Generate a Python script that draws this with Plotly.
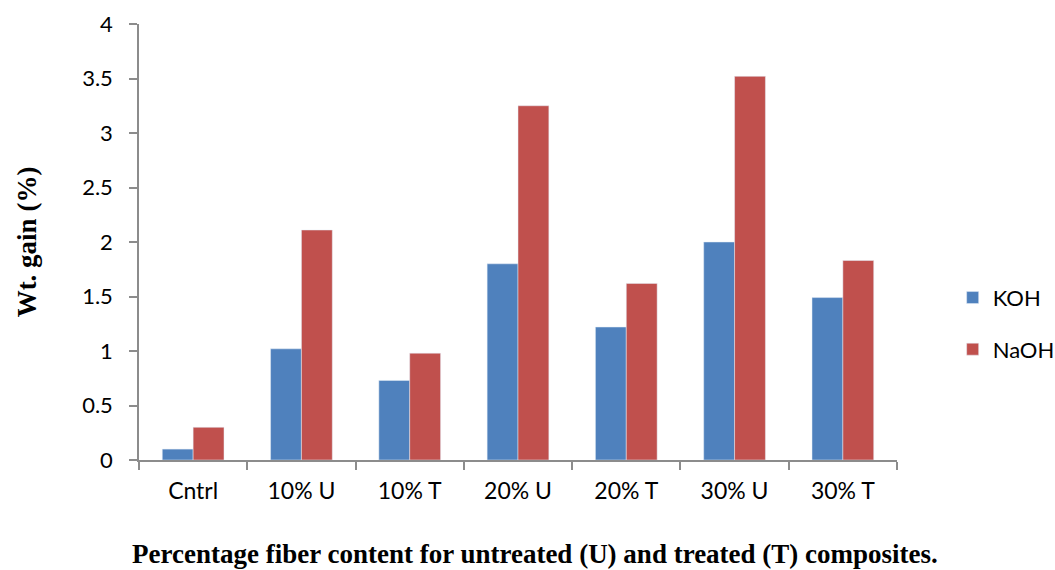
import plotly.graph_objects as go

categories = ["Cntrl", "10% U", "10% T", "20% U", "20% T", "30% U", "30% T"]
koh = [0.10, 1.02, 0.73, 1.80, 1.22, 2.00, 1.49]
naoh = [0.30, 2.11, 0.98, 3.25, 1.62, 3.52, 1.83]
y_ticks = [0, 0.5, 1, 1.5, 2, 2.5, 3, 3.5, 4]
y_tick_text = ["0", "0.5", "1", "1.5", "2", "2.5", "3", "3.5", "4"]

fig = go.Figure()
fig.add_trace(go.Bar(x=categories, y=koh, name="KOH", marker_color="#4F81BD",
                     legendgroup="koh"))
fig.add_trace(go.Bar(x=categories, y=naoh, name="NaOH", marker_color="#C0504D",
                     legendgroup="naoh"))

axis_col = "#8C8C8C"
serif = "Liberation Serif, Times New Roman, serif"
fig.update_layout(
    width=1055, height=570,
    margin=dict(l=139, r=158, t=24, b=110, autoexpand=False),
    paper_bgcolor="white", plot_bgcolor="white",
    barmode="group", bargap=0.43, bargroupgap=0,
    font=dict(family="Lato, Open Sans, sans-serif", color="#000000", size=20),
    legend=dict(xref="container", yref="container", x=0.903, y=0.432,
                xanchor="left", yanchor="middle",
                tracegroupgap=20, font=dict(size=22), itemwidth=30),
    xaxis=dict(
        showline=True, linecolor=axis_col, linewidth=1.5,
        ticks="outside", tickson="boundaries", ticklen=8, tickcolor=axis_col,
        tickwidth=1.5, tickfont=dict(size=23), ticklabelstandoff=10,
    ),
    yaxis=dict(
        range=[0, 4], tickvals=y_ticks, ticktext=y_tick_text,
        showline=True, linecolor=axis_col, linewidth=1.5,
        ticks="outside", ticklen=8, tickcolor=axis_col, tickwidth=1.5,
        showgrid=False, zeroline=False, tickfont=dict(size=22),
        ticklabelstandoff=12,
        title=dict(text="<b>Wt. gain (%)</b>",
                   font=dict(family=serif, size=27), standoff=38),
    ),
)

# x-axis caption placed below the category labels
fig.add_annotation(
    text="<b>Percentage fiber content for untreated (U) and treated (T) composites.</b>",
    xref="paper", yref="paper", x=0.522, y=-0.215, xanchor="center", yanchor="middle",
    showarrow=False, font=dict(family=serif, size=27, color="#000000"),
)

fig.write_html("out.html")
